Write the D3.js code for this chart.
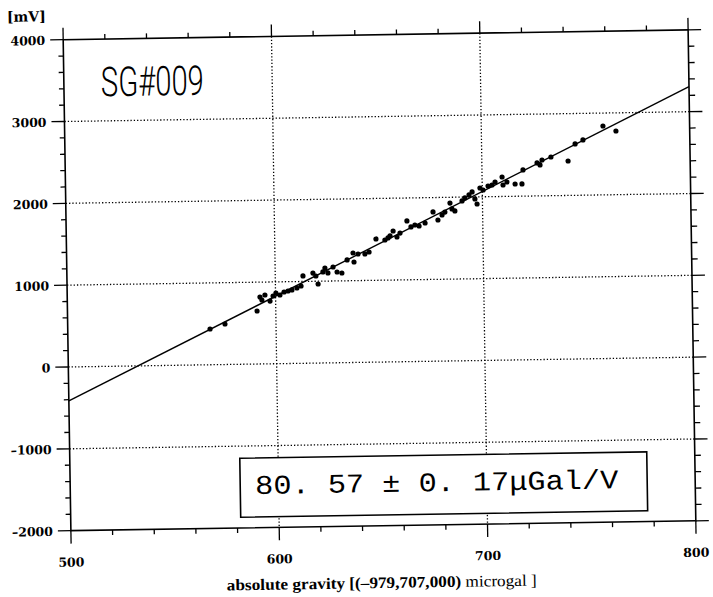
<!DOCTYPE html>
<html>
<head>
<meta charset="utf-8">
<script src="https://cdn.jsdelivr.net/npm/d3@7"></script>
<style>
  body { margin: 0; background: #fff; }
  .lbl { font-family: "DejaVu Serif", serif; font-weight: bold; font-size: 12.5px; }
</style>
</head>
<body>
<div id="chart"></div>
<script>
// absolute gravity (microgal, offset -979,707,000) vs SG output (mV)
const gravity = [568.3, 575.5, 591.0, 592.5, 593.4, 594.9, 597.3, 598.8, 600.2, 602.1,
  604.1, 606.0, 607.9, 610.3, 612.3, 613.3, 618.1, 619.5, 620.5, 622.9,
  623.9, 625.3, 627.8, 629.7, 632.0, 634.6, 637.5, 637.9, 639.9, 643.2,
  645.2, 648.6, 652.9, 654.4, 655.4, 656.9, 658.7, 660.2, 663.6, 665.5,
  667.4, 669.4, 672.3, 676.2, 678.5, 680.5, 681.9, 684.4, 685.3, 686.7,
  690.2, 691.6, 693.6, 695.1, 696.4, 697.4, 698.9, 700.4, 702.8, 704.7,
  706.2, 709.6, 710.0, 711.9, 715.8, 719.1, 719.7, 726.5, 727.9, 728.9,
  733.2, 741.4, 744.9, 748.7, 758.4, 764.6];
const voltage = [437, 495, 648, 818, 781, 842, 767, 828, 864, 839,
  875, 886, 898, 921, 945, 1067, 1101, 1064, 966, 1112,
  1160, 1099, 1171, 1109, 1096, 1254, 1338, 1228, 1325, 1324,
  1347, 1505, 1491, 1515, 1539, 1599, 1525, 1573, 1719, 1645,
  1668, 1655, 1691, 1824, 1725, 1785, 1821, 1930, 1857, 1832,
  1953, 1989, 2025, 2061, 1975, 1913, 2108, 2083, 2131, 2142,
  2178, 2238, 2140, 2176, 2150, 2149, 2320, 2403, 2378, 2438,
  2473, 2421, 2628, 2675, 2842, 2778];

// regression line end points
const fitX = [500, 800];
const fitY = [-415, 3305];

const xMajor = [500, 600, 700, 800];
const yMajor = [-2000, -1000, 0, 1000, 2000, 3000, 4000];
const xGrid = [600, 700];
const yGrid = [-1000, 0, 1000, 2000, 3000];

const W = 713, H = 597;
const margin = { top: 34.75, right: 21, bottom: 71.25, left: 67 };
const width = W - margin.left - margin.right,
      height = H - margin.top - margin.bottom;

const svg = d3.select("#chart").append("svg")
  .attr("width", W).attr("height", H);

// the scan is slightly tilted
const root = svg.append("g")
  .attr("transform", "rotate(-0.9 379.5 280.25)");

const g = root.append("g")
  .attr("transform", `translate(${margin.left},${margin.top})`);

const x = d3.scaleLinear().domain([500, 800]).range([0, width]);
const y = d3.scaleLinear().domain([-2000, 4000]).range([height, 0]);

const xMinor = d3.range(500, 801, 20).filter(v => !xMajor.includes(v));
const yMinor = d3.range(-2000, 4001, 200).filter(v => !yMajor.includes(v));

// dotted grid
g.append("g").selectAll("line").data(xGrid).join("line")
  .attr("x1", d => x(d)).attr("x2", d => x(d))
  .attr("y1", 0).attr("y2", height)
  .attr("stroke", "#000").attr("stroke-width", 1.3)
  .attr("stroke-dasharray", "1.3 2");
g.append("g").selectAll("line").data(yGrid).join("line")
  .attr("x1", 0).attr("x2", width)
  .attr("y1", d => y(d)).attr("y2", d => y(d))
  .attr("stroke", "#000").attr("stroke-width", 1.3)
  .attr("stroke-dasharray", "1.3 2");

// frame
g.append("rect")
  .attr("width", width).attr("height", height)
  .attr("fill", "none").attr("stroke", "#000").attr("stroke-width", 1.6);

// tick marks, all pointing outward
const tk = g.append("g").attr("stroke", "#000").attr("stroke-width", 1.3);
function hTicks(vals, y0, len) {
  tk.append("g").selectAll("line").data(vals).join("line")
    .attr("x1", d => x(d)).attr("x2", d => x(d))
    .attr("y1", y0).attr("y2", y0 + len);
}
function vTicks(vals, x0, len) {
  tk.append("g").selectAll("line").data(vals).join("line")
    .attr("y1", d => y(d)).attr("y2", d => y(d))
    .attr("x1", x0).attr("x2", x0 + len);
}
hTicks(xMinor, height, 5);
hTicks(xMajor, height, 13);
hTicks(xMinor, 0, -5);
hTicks(xMajor, 0, -12);
vTicks(yMinor, 0, -5);
vTicks(yMajor, 0, -13);
vTicks(yMinor, width, 6);
vTicks(yMajor, width, 13);

const fmt = d => d < 0 ? "\u2013" + Math.abs(d) : String(d);
g.append("g").selectAll("text").data(xMajor).join("text")
  .attr("class", "lbl").attr("text-anchor", "middle")
  .attr("x", d => x(d)).attr("y", height + 36)
  .text(fmt);
g.append("g").selectAll("text").data(yMajor).join("text")
  .attr("class", "lbl").attr("text-anchor", "end")
  .attr("x", -18).attr("y", d => y(d)).attr("dy", "0.4em")
  .text(fmt);

// fit line
g.append("path")
  .datum(d3.zip(fitX, fitY))
  .attr("fill", "none").attr("stroke", "#000").attr("stroke-width", 1.4)
  .attr("d", d3.line().x(d => x(d[0])).y(d => y(d[1])));

// measurements
g.append("g").selectAll("circle").data(d3.zip(gravity, voltage)).join("circle")
  .attr("cx", d => x(d[0])).attr("cy", d => y(d[1]))
  .attr("r", 2.6).attr("fill", "#000");

// station label
root.append("text")
  .attr("x", 104).attr("y", 92)
  .attr("font-family", "Roboto, 'Liberation Sans Narrow', sans-serif")
  .attr("font-weight", 300)
  .attr("font-size", 41).attr("textLength", 103)
  .attr("lengthAdjust", "spacingAndGlyphs")
  .text("SG#009");

// scale factor box
root.append("rect")
  .attr("x", 237).attr("y", 456).attr("width", 407).attr("height", 59)
  .attr("fill", "#fff").attr("stroke", "#000").attr("stroke-width", 1.6);
root.append("text")
  .attr("x", 252).attr("y", 492)
  .attr("font-family", "'Courier New', 'Liberation Mono', monospace")
  .attr("font-size", 27).attr("textLength", 363)
  .attr("lengthAdjust", "spacingAndGlyphs")
  .text("80. 57 \u00b1 0. 17\u03bcGal/V");

// unit and axis title
root.append("text").attr("class", "lbl").style("font-size", "14px")
  .attr("x", 11).attr("y", 16).text("[mV]");

const title = root.append("text")
  .attr("x", 222).attr("y", 588)
  .attr("font-family", "'Liberation Serif', serif").attr("font-size", 16)
  .attr("textLength", 310).attr("lengthAdjust", "spacingAndGlyphs");
title.append("tspan").attr("font-weight", "bold")
  .text("absolute gravity  [(\u2013979,707,000)");
title.append("tspan").text(" microgal ]");
</script>
</body>
</html>
